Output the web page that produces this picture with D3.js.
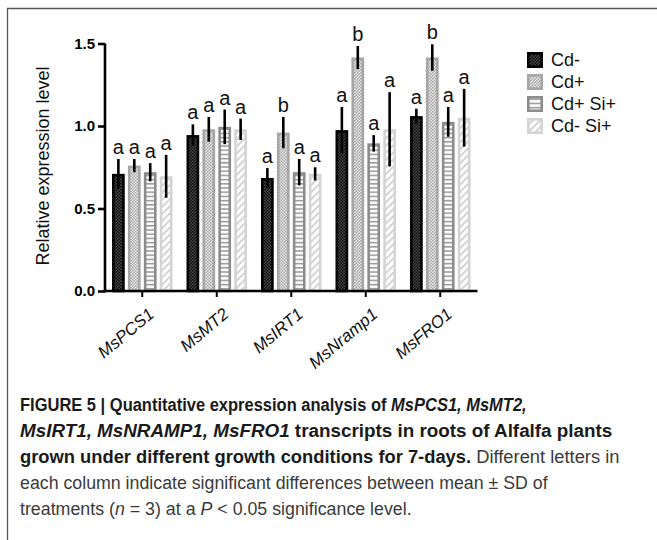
<!DOCTYPE html>
<html>
<head>
<meta charset="utf-8">
<script src="https://cdn.jsdelivr.net/npm/d3@7"></script>
<style>
  body { margin: 0; background: #fff; }
  svg { display: block; font-family: Arial, "Liberation Sans", Helvetica, sans-serif; }
</style>
</head>
<body>
<div id="chart"></div>
<script>
// genes on the x axis, treatments in each group
var genes = ["MsPCS1", "MsMT2", "MsIRT1", "MsNramp1", "MsFRO1"]
var conditions = ["Cd-", "Cd+", "Cd+ Si+", "Cd- Si+"]

// mean relative expression, one array per treatment
var cdMinus = [0.71, 0.945, 0.685, 0.975, 1.06]
var cdPlus = [0.76, 0.98, 0.96, 1.415, 1.415]
var cdPlusSiPlus = [0.72, 0.995, 0.72, 0.895, 1.025]
var cdMinusSiPlus = [0.695, 0.98, 0.71, 0.98, 1.05]

// SD
var sdCdMinus = [0.09, 0.065, 0.06, 0.14, 0.045]
var sdCdPlus = [0.04, 0.075, 0.095, 0.07, 0.08]
var sdCdPlusSiPlus = [0.055, 0.105, 0.08, 0.05, 0.09]
var sdCdMinusSiPlus = [0.13, 0.065, 0.04, 0.225, 0.175]

// significance letters
var lettersCdMinus = ["a", "a", "a", "a", "a"]
var lettersCdPlus = ["a", "a", "b", "b", "b"]
var lettersCdPlusSiPlus = ["a", "a", "a", "a", "a"]
var lettersCdMinusSiPlus = ["a", "a", "a", "a", "a"]

var yTicks = [0, 0.5, 1.0, 1.5]

var means = [cdMinus, cdPlus, cdPlusSiPlus, cdMinusSiPlus]
var sds = [sdCdMinus, sdCdPlus, sdCdPlusSiPlus, sdCdMinusSiPlus]
var letters = [lettersCdMinus, lettersCdPlus, lettersCdPlusSiPlus, lettersCdMinusSiPlus]

var width = 657, height = 540

var svg = d3.select("#chart").append("svg")
    .attr("width", width)
    .attr("height", height)

// patterns
var defs = svg.append("defs")

var p0 = defs.append("pattern").attr("id", "pat0").attr("patternUnits", "userSpaceOnUse")
    .attr("width", 3).attr("height", 3)
p0.append("rect").attr("width", 3).attr("height", 3).attr("fill", "#4a4a4a")
p0.append("rect").attr("width", 1.5).attr("height", 1.5).attr("fill", "#0a0a0a")
p0.append("rect").attr("x", 1.5).attr("y", 1.5).attr("width", 1.5).attr("height", 1.5).attr("fill", "#0a0a0a")

var p1 = defs.append("pattern").attr("id", "pat1").attr("patternUnits", "userSpaceOnUse")
    .attr("width", 3).attr("height", 3)
p1.append("rect").attr("width", 3).attr("height", 3).attr("fill", "#e8e8e8")
p1.append("rect").attr("width", 1.5).attr("height", 1.5).attr("fill", "#a8a8a8")
p1.append("rect").attr("x", 1.5).attr("y", 1.5).attr("width", 1.5).attr("height", 1.5).attr("fill", "#a8a8a8")

var p2 = defs.append("pattern").attr("id", "pat2").attr("patternUnits", "userSpaceOnUse")
    .attr("width", 4).attr("height", 4.2)
p2.append("rect").attr("width", 4).attr("height", 4.2).attr("fill", "#fff")
p2.append("rect").attr("y", 2.4).attr("width", 4).attr("height", 1.6).attr("fill", "#9a9a9a")

var p3 = defs.append("pattern").attr("id", "pat3").attr("patternUnits", "userSpaceOnUse")
    .attr("width", 5).attr("height", 5).attr("patternTransform", "rotate(45)")
p3.append("rect").attr("width", 5).attr("height", 5).attr("fill", "#fff")
p3.append("rect").attr("width", 1.8).attr("height", 5).attr("fill", "#d0d0d0")

var fills = ["url(#pat0)", "url(#pat1)", "url(#pat2)", "url(#pat3)"]
var strokes = ["#000", "#a6a6a6", "#8c8c8c", "#d4d4d4"]

// frame
svg.append("path")
    .attr("d", "M7.5,560 L7.5,8.5 L680,8.5")
    .attr("fill", "none")
    .attr("stroke", "#555")
    .attr("stroke-width", 1.3)

// scales
var y = d3.scaleLinear().domain([0, 1.5]).range([291, 43.5])
var x = d3.scaleBand().domain(genes).range([105, 477.5])
var xSub = d3.scaleBand().domain(conditions).range([7, 67.5]).paddingInner(0.2)

var data = []
genes.forEach((g, gi) => {
    conditions.forEach((c, ci) => {
        data.push({gene: g, cond: c, ci: ci, mean: means[ci][gi], sd: sds[ci][gi], letter: letters[ci][gi]})
    })
})

var sw = 2.6
var bars = svg.append("g")
bars.selectAll("rect")
    .data(data)
    .enter()
    .append("rect")
    .attr("x", d => x(d.gene) + xSub(d.cond) + sw / 2)
    .attr("y", d => y(d.mean) + sw / 2)
    .attr("width", xSub.bandwidth() - sw)
    .attr("height", d => y(0) - y(d.mean) - sw / 2)
    .attr("fill", d => fills[d.ci])
    .attr("stroke", d => strokes[d.ci])
    .attr("stroke-width", sw)

// error bars
svg.append("g").selectAll("line")
    .data(data)
    .enter()
    .append("line")
    .attr("x1", d => x(d.gene) + xSub(d.cond) + xSub.bandwidth() / 2)
    .attr("x2", d => x(d.gene) + xSub(d.cond) + xSub.bandwidth() / 2)
    .attr("y1", d => y(d.mean - d.sd))
    .attr("y2", d => y(d.mean + d.sd))
    .attr("stroke", "#000")
    .attr("stroke-width", 2.6)

// letters
svg.append("g").selectAll("text")
    .data(data)
    .enter()
    .append("text")
    .attr("x", d => x(d.gene) + xSub(d.cond) + xSub.bandwidth() / 2)
    .attr("y", d => y(d.mean + d.sd) - 5)
    .attr("text-anchor", "middle")
    .attr("font-size", "20px")
    .attr("fill", "#111")
    .text(d => d.letter)

// axes
var yAxis = svg.append("g")
    .attr("transform", "translate(105,0)")
    .call(d3.axisLeft(y).tickValues(yTicks).tickFormat(d3.format(".1f")).tickSize(7).tickSizeOuter(0))
yAxis.select(".domain").attr("stroke-width", 2.6).attr("d", `M0,${y(1.5)}V${y(0) + 1.3}`)
yAxis.selectAll(".tick line").attr("stroke-width", 2.6)
yAxis.selectAll(".tick text")
    .attr("font-size", "15px")
    .attr("font-weight", "bold")
    .attr("font-family", "Arial, 'Liberation Sans', sans-serif")
    .attr("fill", "#000")
    .attr("x", -10)

var xAxis = svg.append("g")
    .attr("transform", `translate(0,${y(0)})`)
    .call(d3.axisBottom(x).tickSize(6).tickSizeOuter(0))
xAxis.select(".domain").attr("stroke-width", 2.6).attr("d", "M103.7,0H477.5")
xAxis.selectAll(".tick line").attr("stroke-width", 2)
xAxis.selectAll(".tick text")
    .attr("font-size", "17px")
    .attr("font-style", "italic")
    .attr("font-family", "Arial, 'Liberation Sans', sans-serif")
    .attr("fill", "#111")
    .attr("text-anchor", "end")
    .attr("dy", null)
    .attr("transform", "translate(13,25) rotate(-40)")
    .attr("x", 0)
    .attr("y", 0)

// y title
svg.append("text")
    .attr("transform", "translate(49,166) rotate(-90)")
    .attr("text-anchor", "middle")
    .attr("font-size", "18px")
    .attr("fill", "#111")
    .text("Relative expression level")

// legend
var legend = svg.append("g").attr("transform", "translate(527,52)")
conditions.forEach((c, i) => {
    var row = legend.append("g").attr("transform", `translate(0,${i * 22})`)
    row.append("rect")
        .attr("x", sw / 2).attr("y", sw / 2)
        .attr("width", 16 - sw).attr("height", 16 - sw)
        .attr("fill", fills[i])
        .attr("stroke", strokes[i])
        .attr("stroke-width", sw)
    row.append("text")
        .attr("x", 24)
        .attr("y", 8)
        .attr("dy", "0.36em")
        .attr("font-size", "18px")
        .attr("fill", "#111")
        .text(c)
})

// caption - each line squeezed horizontally to match the narrow journal font
var captionLines = [
    [["FIGURE 5 | Quantitative expression analysis of ", "b"], ["MsPCS1, MsMT2,", "bi"]],
    [["MsIRT1, MsNRAMP1, MsFRO1", "bi"], [" transcripts in roots of Alfalfa plants", "b"]],
    [["grown under different growth conditions for 7-days.", "b"], [" Different letters in", "r"]],
    [["each column indicate significant differences between mean \u00b1 SD of", "r"]],
    [["treatments (", "r"], ["n", "i"], [" = 3) at a ", "r"], ["P", "i"], [" < 0.05 significance level.", "r"]]
]
var captionWidths = [507, 593, 600, 528, 392]
var cap = svg.append("g")
captionLines.forEach((parts, li) => {
    var t = cap.append("text")
        .attr("x", 0)
        .attr("y", 0)
        .attr("font-size", "18.5px")
    parts.forEach(p => {
        t.append("tspan")
            .attr("font-weight", p[1].indexOf("b") >= 0 ? "bold" : "normal")
            .attr("font-style", p[1].indexOf("i") >= 0 ? "italic" : "normal")
            .attr("fill", p[1].indexOf("b") >= 0 ? "#1a1a1a" : "#3a3a3a")
            .text(p[0])
    })
    var natural = t.node().getComputedTextLength()
    var k = captionWidths[li] / natural
    t.attr("transform", `translate(20,${411 + li * 26}) scale(${k},1)`)
})
</script>
</body>
</html>
